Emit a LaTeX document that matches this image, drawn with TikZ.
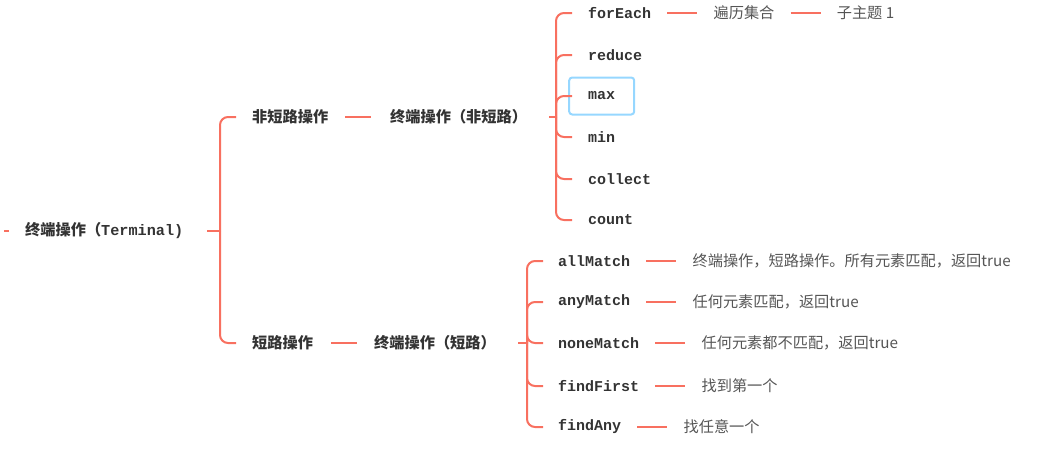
\documentclass[tikz,border=0pt]{standalone}
\usepackage{fontspec}
\setmainfont{Noto Sans CJK SC}
\setmonofont{Liberation Mono}
\usepackage{xcolor}
\usetikzlibrary{positioning}
\definecolor{branch}{RGB}{248,112,96}
\definecolor{ink}{RGB}{51,51,51}
\definecolor{noteink}{RGB}{85,85,85}
\definecolor{selblue}{RGB}{150,215,255}

\begin{document}
\begin{tikzpicture}[x=1pt,y=-1pt,
  topic/.style={anchor=west,inner sep=0pt,text=ink,font=\fontsize{15.2}{18}\selectfont\bfseries},
  op/.style={anchor=west,inner sep=0pt,text=ink,font=\fontsize{15}{18}\selectfont\ttfamily\bfseries},
  note/.style={anchor=west,inner sep=0pt,text=noteink,font=\fontsize{15.2}{18}\selectfont},
  link/.style={draw=branch,line width=2pt,rounded corners=8pt}]
\useasboundingbox(0,0)rectangle(1056,453);
% topics
\node[topic](root)at(25,231){终端操作（{\ttfamily Terminal)}};
\node[topic](nsc)at(252,117){非短路操作};
\node[topic](sc)at(252,343){短路操作};
\node[topic](nscT)at(390,117){终端操作（非短路）};
\node[topic](scT)at(374,343){终端操作（短路）};
% operations
\foreach \n/\y in {forEach/13,reduce/55,max/96,min/137,collect/179,count/220}
  \node[op](\n)at(588,\y){\n};
\foreach \n/\y in {allMatch/261,anyMatch/302,noneMatch/343,findFirst/386,findAny/427}
  \node[op](\n)at(558,\y){\n};
\node[draw=selblue,line width=2pt,rounded corners=3pt,minimum width=65pt,minimum height=37pt](maxsel)at(max){};
% notes
\node[note,right=62pt of forEach](traverse){遍历集合};
\node[note,right=62pt of traverse](sub1){子主题 1};
\foreach \n/\t in {allMatch/{终端操作，短路操作。所有元素匹配，返回true},anyMatch/{任何元素匹配，返回true},
  noneMatch/{任何元素都不匹配，返回true},findFirst/{找到第一个},findAny/{找任意一个}}
  \node[note,right=62pt of \n](\n note){\t};
% junctions
\coordinate(rootJ)at([xshift=-32pt]nsc.west|-root);
\coordinate(nscJ)at([xshift=-32pt]forEach.west|-nscT);
\coordinate(scJ)at([xshift=-31pt]allMatch.west|-scT);
% links
\draw[link]([xshift=-16pt]root.west)--++(-5,0);
\draw[link]([xshift=24pt]root.east)--(rootJ);
\foreach \n in {nsc,sc}
  \draw[link](rootJ)|-([xshift=-16pt]\n.west);
\draw[link]([xshift=17pt]nsc.east)--([xshift=-19pt]nscT.west);
\draw[link]([xshift=18pt]sc.east)--([xshift=-17pt]scT.west);
\draw[link]([xshift=22pt]nscT.east)--(nscJ);
\foreach \n in {forEach,reduce,max,min,collect,count}
  \draw[link](nscJ)|-([xshift=-16pt]\n.west);
\draw[link]([xshift=22pt]scT.east)--(scJ);
\foreach \n in {allMatch,anyMatch,noneMatch,findFirst,findAny}{
  \draw[link](scJ)|-([xshift=-15pt]\n.west);
  \draw[link]([xshift=16pt]\n.east)--([xshift=-16pt]\n note.west);
}
\draw[link]([xshift=16pt]forEach.east)--([xshift=-16pt]traverse.west);
\draw[link]([xshift=16pt]traverse.east)--([xshift=-16pt]sub1.west);
\end{tikzpicture}
\end{document}
